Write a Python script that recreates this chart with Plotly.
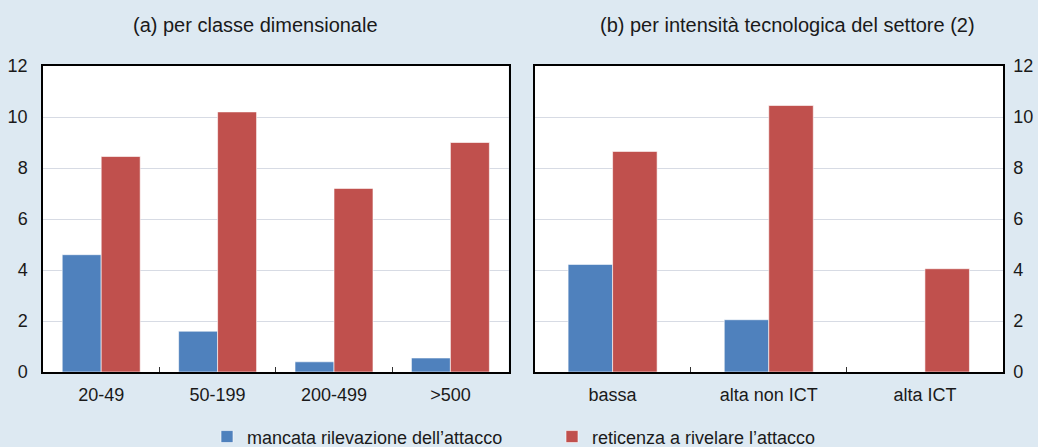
import plotly.graph_objects as go

cat_a = ["20-49", "50-199", "200-499", ">500"]
mancata_a = [4.6, 1.6, 0.4, 0.55]
reticenza_a = [8.45, 10.2, 7.2, 9.0]

cat_b = ["bassa", "alta non ICT", "alta ICT"]
mancata_b = [4.22, 2.05, 0]
reticenza_b = [8.65, 10.45, 4.05]

name_m = "mancata rilevazione dell\u2019attacco"
name_r = "reticenza a rivelare l\u2019attacco"
title_a = "(a) per classe dimensionale"
title_b = "(b) per intensità tecnologica del settore (2)"

BLUE = "#4f81bd"
RED = "#c0504d"
BG = "#dde9f2"
FONT = "Liberation Sans, Arial, sans-serif"
TXT = "#1a1a1a"

wa = 0.335
wb = 0.285

fig = go.Figure()
line = dict(color="rgba(255,255,255,0.6)", width=1)
fig.add_trace(go.Bar(x=cat_a, y=mancata_a, name=name_m, marker=dict(color=BLUE, line=line),
                     width=wa, offset=-wa, xaxis="x", yaxis="y", legendgroup="m"))
fig.add_trace(go.Bar(x=cat_a, y=reticenza_a, name=name_r, marker=dict(color=RED, line=line),
                     width=wa, offset=0, xaxis="x", yaxis="y", legendgroup="r"))
fig.add_trace(go.Bar(x=cat_b, y=mancata_b, name=name_m, marker=dict(color=BLUE, line=line),
                     width=wb, offset=-wb, xaxis="x2", yaxis="y2", legendgroup="m", showlegend=False))
fig.add_trace(go.Bar(x=cat_b, y=reticenza_b, name=name_r, marker=dict(color=RED, line=line),
                     width=wb, offset=0, xaxis="x2", yaxis="y2", legendgroup="r", showlegend=False))

xcommon = dict(type="category", showline=True, linecolor="black", linewidth=1.5, mirror=True,
               ticks="inside", tickson="boundaries", ticklen=5, tickcolor="#333",
               showgrid=False, tickfont=dict(size=18, color=TXT, family=FONT),
               ticklabelstandoff=6, automargin=False)
ycommon = dict(range=[0, 12], dtick=2, showline=True, linecolor="black", linewidth=1.5, mirror=True,
               showgrid=True, gridcolor="#d7dbe4", gridwidth=1, zeroline=False, ticks="",
               tickfont=dict(size=18, color=TXT, family=FONT), automargin=False)

fig.update_layout(
    width=1038, height=447,
    margin=dict(l=43, r=35, t=66, b=75, pad=0, autoexpand=False),
    paper_bgcolor=BG, plot_bgcolor="white",
    font=dict(family=FONT, size=18, color=TXT),
    barmode="overlay",
    xaxis=dict(domain=[0, 0.485], anchor="y", **xcommon),
    xaxis2=dict(domain=[0.512, 1], anchor="y2", **xcommon),
    yaxis=dict(anchor="x", side="left", ticklabelstandoff=10, **ycommon),
    yaxis2=dict(anchor="x2", side="right", ticklabelstandoff=5, **ycommon),
    showlegend=True,
    legend=dict(orientation="h", x=(207 - 43) / 960, xanchor="left", y=-0.212, yanchor="middle",
                bgcolor="rgba(0,0,0,0)", font=dict(size=18, family=FONT, color=TXT),
                entrywidth=300, itemwidth=30, tracegroupgap=0),
    annotations=[
        dict(text=title_a, x=(255 - 43) / 960, y=1.135, xref="paper", yref="paper", showarrow=False,
             xanchor="center", yanchor="middle", font=dict(size=20)),
        dict(text=title_b, x=(787 - 43) / 960, y=1.135, xref="paper", yref="paper", showarrow=False,
             xanchor="center", yanchor="middle", font=dict(size=20)),
    ],
)
fig.write_html("out.html", post_script="document.body.style.margin='0';",
               config={"displayModeBar": False})
